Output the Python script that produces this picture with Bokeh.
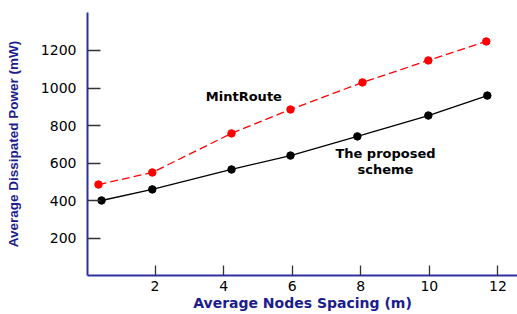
from bokeh.plotting import figure
from bokeh.models import Range1d, FixedTicker, Label
from bokeh.embed import file_html
from bokeh.resources import INLINE

# Data
proposed_x = [0.44, 1.92, 4.23, 5.95, 7.9, 9.97, 11.69]
proposed_y = [402, 461, 567, 641, 743, 854, 960]
mint_x = [0.35, 1.92, 4.23, 5.95, 8.05, 9.97, 11.66]
mint_y = [487, 551, 759, 886, 1030, 1147, 1248]
x_ticks = [2, 4, 6, 8, 10, 12]
y_ticks = [200, 400, 600, 800, 1000, 1200]

FONT = "DejaVu Sans"
NAVY = "#1c1c8c"

p = figure(width=517, height=314, output_backend="svg", toolbar_location=None,
           x_range=Range1d(0.03, 12.57), y_range=Range1d(3, 1402),
           min_border_left=87, min_border_right=0, min_border_top=12, min_border_bottom=39)
p.outline_line_color = None
p.xgrid.visible = False
p.ygrid.visible = False
p.background_fill_color = "white"

for ax in (p.xaxis[0], p.yaxis[0]):
    ax.axis_line_color = "#3030a0"
    ax.axis_line_width = 2
    ax.major_tick_line_color = "#333333"
    ax.major_tick_line_width = 1.3
    ax.minor_tick_line_color = None
    ax.major_tick_out = 0
    ax.major_label_text_font = FONT
    ax.major_label_text_font_size = "14px"
    ax.major_label_text_color = "black"
    ax.axis_label_text_font_style = "bold"
    ax.axis_label_text_color = NAVY

p.xaxis.axis_label_text_font = "DejaVu Sans"
p.xaxis.axis_label_text_font_size = "14px"
p.yaxis.axis_label_text_font = "Liberation Sans"
p.yaxis.axis_label_text_font_size = "13.5px"

p.xaxis.ticker = FixedTicker(ticks=x_ticks)
p.yaxis.ticker = FixedTicker(ticks=y_ticks)
p.xaxis.major_tick_in = 10
p.yaxis.major_tick_in = 13
p.xaxis.major_label_standoff = 5
p.yaxis.major_label_standoff = 11
p.xaxis.axis_label = "Average Nodes Spacing (m)"
p.yaxis.axis_label = "Average Dissipated Power (mW)"
p.xaxis.axis_label_standoff = 1
p.yaxis.axis_label_standoff = 17

p.line(mint_x, mint_y, line_color="red", line_width=1.3, line_dash="8 4")
p.scatter(mint_x, mint_y, size=7.5, fill_color="red", line_color="red")
p.line(proposed_x, proposed_y, line_color="black", line_width=1.3)
p.scatter(proposed_x, proposed_y, size=7.5, fill_color="black", line_color="black")

lbl_style = dict(text_font="DejaVu Sans", text_font_size="13px", text_font_style="bold",
                 text_color="black", text_align="center", text_baseline="middle")
p.add_layout(Label(x=4.59, y=955, text="MintRoute", **lbl_style))
p.add_layout(Label(x=8.72, y=652, text="The proposed", **lbl_style))
p.add_layout(Label(x=8.72, y=567, text="scheme", **lbl_style))

open("out.html", "w").write(file_html(p, INLINE))
